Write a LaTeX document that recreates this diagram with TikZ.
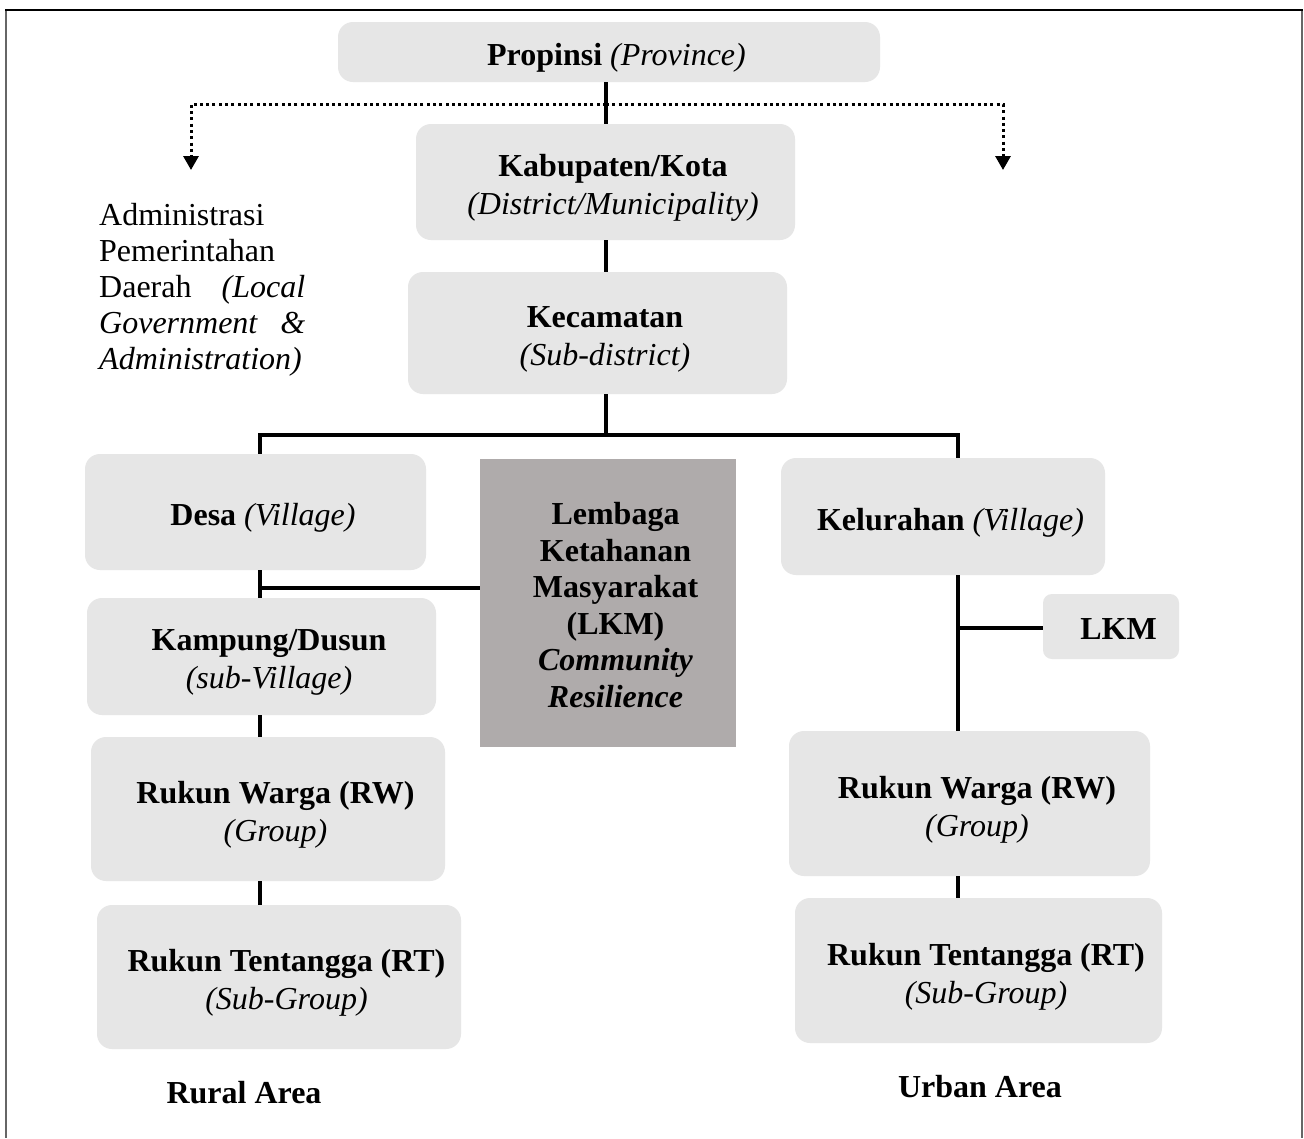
\documentclass[tikz,border=0pt]{standalone}
\usepackage{fontspec}
\setmainfont{Liberation Serif}
\usetikzlibrary{arrows.meta}
\definecolor{boxgray}{HTML}{E6E6E6}
\definecolor{lkmgray}{HTML}{AFABAB}
\definecolor{framegray}{HTML}{666666}
\tikzset{
  orgbox/.style={fill=boxgray, rounded corners=15pt, inner sep=0pt, draw=none},
  lkmbox/.style={fill=lkmgray, inner sep=0pt, draw=none},
  orgtext/.style={align=center, inner sep=0pt, font=\fontsize{32}{38}\selectfont},
  conn/.style={line width=3.6pt},
  dotconn/.style={line width=3pt, dash pattern=on 3pt off 3.3pt, -{Triangle[width=15pt,length=14pt]}},
  areatext/.style={inner sep=0pt, font=\fontsize{32}{37}\selectfont\bfseries}
}
\newcommand\obox[7][orgbox]{%
  \node[#1, minimum width=#5pt, minimum height=#6pt] (#2) at (#3,#4) {};
  \node[orgtext] (#2-t) at ([shift={(7.5,6)}]#2.center) {#7};}
\begin{document}
\begin{tikzpicture}[x=1pt,y=-1pt]
\useasboundingbox (0,0) rectangle (1304,1138);
\fill[white] (0,0) rectangle (1304,1138);
% frame
\draw[framegray, line width=2pt] (6,10) -- (6,1138);
\draw[framegray, line width=2pt] (1302,10) -- (1302,1138);
\draw[black, line width=2pt] (5,10) -- (1303,10);

% boxes
\obox{prop}{609}{52}{542}{60}{\textbf{Propinsi} \textit{(Province)}}
\obox{kab}{605.5}{182}{379}{116}{\textbf{Kabupaten/Kota}\\\textit{(District/Municipality)}}
\obox{kec}{597.5}{333}{379}{122}{\textbf{Kecamatan}\\\textit{(Sub-district)}}
\obox{desa}{255.5}{512}{341}{116}{\textbf{Desa} \textit{(Village)}}
\node[lkmbox, minimum width=256pt, minimum height=288pt] (lkmbig) at (608,603) {};
\node[orgtext, font=\fontsize{32}{36.5}\selectfont] (lkmbig-t) at ([shift={(7.5,2)}]lkmbig.center)
 {\textbf{Lembaga}\\\textbf{Ketahanan}\\\textbf{Masyarakat}\\\textbf{(LKM)}\\\textbf{\textit{Community}}\\\textbf{\textit{Resilience}}};
\obox{kamp}{261.5}{656.5}{349}{117}{\textbf{Kampung/Dusun}\\\textit{(sub-Village)}}
\obox{rwL}{268}{809}{354}{144}{\textbf{Rukun Warga (RW)}\\\textit{(Group)}}
\obox{rtL}{279}{977}{364}{144}{\textbf{Rukun Tentangga (RT)}\\\textit{(Sub-Group)}}
\obox{kel}{943}{516.5}{324}{117}{\textbf{Kelurahan} \textit{(Village)}}
\node[orgbox, rounded corners=9pt, minimum width=136pt, minimum height=65pt] (lkms) at (1111,626.5) {};
\node[orgtext] (lkms-t) at ([shift={(7.5,2.5)}]lkms.center) {\textbf{LKM}};
\obox{rwR}{969.5}{803.5}{361}{145}{\textbf{Rukun Warga (RW)}\\\textit{(Group)}}
\obox{rtR}{978.5}{970.5}{367}{145}{\textbf{Rukun Tentangga (RT)}\\\textit{(Sub-Group)}}

% left text
\node[inner sep=0pt, anchor=north west, align=left, font=\fontsize{32}{36}\selectfont] (admin) at (99,203)
 {Administrasi\\Pemerintahan\\\makebox[206pt][s]{Daerah \textit{(Local}}\\\makebox[206pt][s]{\textit{Government \&}}\\\textit{Administration)}};

% area labels
\node[areatext] (rural) at (244,1093) {Rural Area};
\node[areatext] (urban) at (980,1087) {Urban Area};

% guide coordinates
\coordinate (spine) at (606,0);
\coordinate (lcol) at (260,0);
\coordinate (rcol) at (958,0);
\coordinate (bar) at (606,435);
\coordinate (lbr) at (260,588);
\coordinate (rbr) at (958,628);
\coordinate (dtop) at (606,104);
\coordinate (dl) at (191,170);
\coordinate (dr) at (1003,170);

% dotted arrows
\draw[dotconn] (dtop) -| (dl);
\draw[dotconn] (dtop) -| (dr);

% solid connectors
\draw[conn] (prop.south -| spine) -- (kab.north -| spine);
\draw[conn] (kab.south -| spine) -- (kec.north -| spine);
\draw[conn] (kec.south -| spine) -- (bar);
\draw[conn] (desa.north -| lcol) |- (bar) -| (kel.north -| rcol);
\draw[conn] (desa.south -| lcol) -- (kamp.north -| lcol);
\draw[conn] (lbr) -- (lbr -| lkmbig.west);
\draw[conn] (kamp.south -| lcol) -- (rwL.north -| lcol);
\draw[conn] (rwL.south -| lcol) -- (rtL.north -| lcol);
\draw[conn] (kel.south -| rcol) -- (rwR.north -| rcol);
\draw[conn] (rbr) -- (rbr -| lkms.west);
\draw[conn] (rwR.south -| rcol) -- (rtR.north -| rcol);
\end{tikzpicture}
\end{document}
